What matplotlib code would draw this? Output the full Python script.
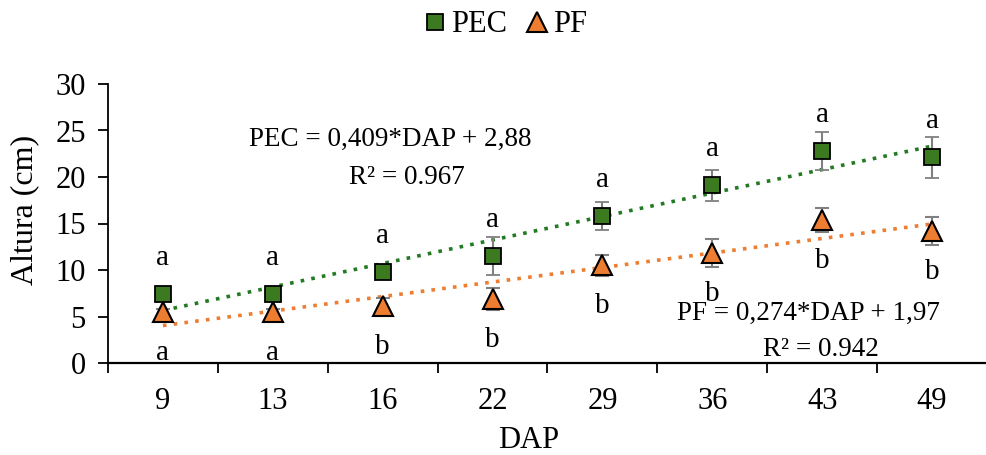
import numpy as np
import matplotlib
matplotlib.use("Agg")
import matplotlib.pyplot as plt
from matplotlib.lines import Line2D

# dados
dap = ["9", "13", "16", "22", "29", "36", "43", "49"]
pec = [7.4, 7.4, 9.8, 11.5, 15.8, 19.1, 22.8, 22.1]
pec_err = [0.3, 0.3, 0.4, 2.0, 1.5, 1.7, 2.0, 2.2]
pf = [5.5, 5.5, 6.1, 6.9, 10.5, 11.8, 15.4, 14.2]
pf_err = [0.3, 0.3, 0.9, 1.2, 1.1, 1.5, 1.3, 1.5]
letras_pec = ["a", "a", "a", "a", "a", "a", "a", "a"]
letras_pf = ["a", "a", "b", "b", "b", "b", "b", "b"]

verde = "#3b7a1e"
verde_linha = "#237a23"
laranja = "#ed7d31"

plt.rcParams["font.family"] = ["Liberation Serif", "DejaVu Serif"]

fig = plt.figure(figsize=(9.87, 4.55), dpi=100)
ax = fig.add_axes([108 / 987, 92 / 455, 879 / 987, 279 / 455])

x = np.arange(1, len(dap) + 1)

# linhas de tendencia (ajuste linear)
for y, cor in [(pec, verde_linha), (pf, laranja)]:
    a, b = np.polyfit(x, y, 1)
    ax.plot(x, a * x + b, linestyle=(0, (1, 2)), color=cor, lw=2.6, zorder=2)

ax.errorbar(x, pec, yerr=pec_err, fmt="s", color=verde, mec="black", mew=1.3,
            ms=11.5, ecolor="#808080", elinewidth=1.5, capsize=5, capthick=1.5,
            zorder=3)
ax.errorbar(x, pf, yerr=pf_err, fmt="^", color=laranja, mec="black", mew=1.5,
            ms=14, ecolor="#808080", elinewidth=1.5, capsize=5, capthick=1.5,
            zorder=3)

for xi, v, l in zip(x, pec, letras_pec):
    ax.text(xi, v + 3.9, l, ha="center", va="center", fontsize=21)
for xi, v, l in zip(x, pf, letras_pf):
    ax.text(xi, v - 4.4, l, ha="center", va="center", fontsize=21)

ax.set_xlim(0.5, 8.41)
ax.set_ylim(0, 30)
ax.set_yticks(range(0, 31, 5))
ax.set_xticks(x)
ax.set_xticklabels(dap)
ax.set_xticks(np.arange(0.5, 8.6, 1), minor=True)
ax.tick_params(axis="x", which="major", length=0, pad=17, labelsize=22)
ax.tick_params(axis="x", which="minor", length=7, width=1.3, direction="out")
ax.tick_params(axis="y", length=7, width=1.3, labelsize=22, pad=9)
for s in ["top", "right"]:
    ax.spines[s].set_visible(False)
ax.spines["left"].set_linewidth(1.3)
ax.spines["bottom"].set_linewidth(1.6)

ax.set_ylabel("Altura (cm)", fontsize=23)
ax.yaxis.set_label_coords(-0.078, 0.55)
ax.set_xlabel("DAP", fontsize=22)
ax.xaxis.set_label_coords(0.478, -0.225)

fig.text(249 / 987, 1 - 139 / 455, "PEC = 0,409*DAP + 2,88", ha="left",
         va="center", fontsize=19.5)
fig.text(349 / 987, 1 - 178 / 455, "R² = 0.967", ha="left", va="center",
         fontsize=19.5)
fig.text(677 / 987, 1 - 313 / 455, "PF = 0,274*DAP + 1,97", ha="left",
         va="center", fontsize=19.5)
fig.text(763 / 987, 1 - 349 / 455, "R² = 0.942", ha="left", va="center",
         fontsize=19.5)

handles = [
    Line2D([], [], marker="s", ls="none", color=verde, mec="black", mew=1.3, ms=11.5),
    Line2D([], [], marker="^", ls="none", color=laranja, mec="black", mew=1.5, ms=14),
]
fig.legend(handles, ["PEC", "PF"], loc="center", bbox_to_anchor=(0.51, 1 - 25 / 455),
           ncol=2, frameon=False, fontsize=22, handletextpad=0.0,
           columnspacing=0.5, handlelength=1.0)

fig.savefig("out.png", dpi=100)
